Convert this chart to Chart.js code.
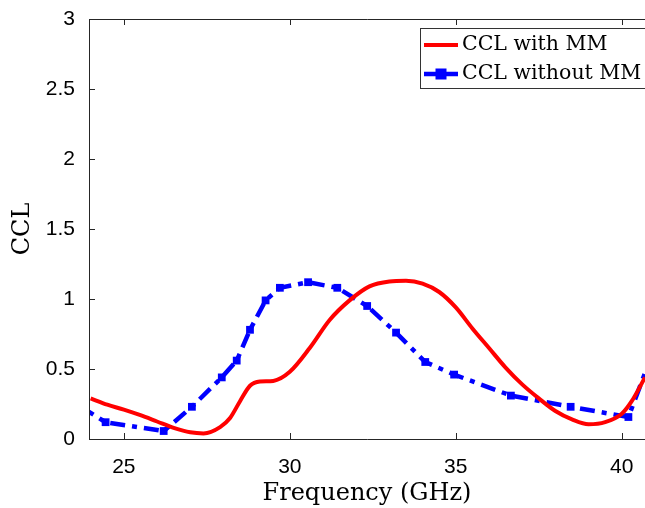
<!DOCTYPE html>
<html>
<head>
<meta charset="utf-8">
<script src="https://cdn.jsdelivr.net/npm/chart.js@4.4.0/dist/chart.umd.min.js"></script>
<style>
  body { margin: 0; background: #fff; }
  canvas { display: block; }
</style>
</head>
<body>
<canvas id="canvas" width="645" height="508"></canvas>
<script>
// CCL with metamaterial (smooth curve)
var freqWith = [24.0, 24.5, 25.0, 25.5, 26.0, 26.5, 27.0, 27.4, 27.9, 28.2, 28.5, 28.8, 29.1, 29.5,
    30.0, 30.6, 31.2, 31.8, 32.4, 33.0, 33.5, 34.0, 34.5, 35.0, 35.5, 36.0, 36.5, 37.0, 37.5,
    38.0, 38.5, 39.0, 39.5, 40.0, 40.3, 40.7];
var cclWith = [0.29, 0.245, 0.21, 0.17, 0.125, 0.08, 0.048, 0.04, 0.085, 0.15, 0.27, 0.38, 0.41, 0.415,
    0.48, 0.65, 0.85, 0.99, 1.09, 1.125, 1.13, 1.11, 1.05, 0.94, 0.79, 0.65, 0.51, 0.39, 0.29,
    0.2, 0.14, 0.105, 0.12, 0.18, 0.27, 0.44];

// CCL without metamaterial (sampled points)
var freqWithout = [23.7, 24.45, 26.2, 27.05, 27.95, 28.4, 28.8, 29.27, 29.7, 30.55, 31.43, 32.33,
    33.2, 34.08, 34.95, 36.66, 38.46, 40.2, 41.0];
var cclWithout = [0.23, 0.12, 0.057, 0.23, 0.44, 0.56, 0.78, 0.99, 1.08, 1.12, 1.08, 0.95,
    0.76, 0.55, 0.46, 0.31, 0.23, 0.157, 0.66];

var xTicks = [25, 30, 35, 40];
var yTicks = [0, 0.5, 1, 1.5, 2, 2.5, 3];

function toPoints(xs, ys) {
    return xs.map(function (x, i) { return { x: x, y: ys[i] }; });
}

var axisColor = '#262626';
var serif = '"DejaVu Serif", serif';
var sans = '"Liberation Sans", Arial, sans-serif';

// box, inward ticks and legend, drawn the matlab way
var framePlugin = {
    id: 'frame',
    afterDraw: function (chart) {
        var ctx = chart.ctx;
        var a = chart.chartArea;
        var xs = chart.scales.x, ys = chart.scales.y;
        ctx.save();
        ctx.strokeStyle = axisColor;
        ctx.lineWidth = 1;
        ctx.beginPath();
        ctx.moveTo(a.right + 2, a.top + 0.5);
        ctx.lineTo(a.left + 0.5, a.top + 0.5);
        ctx.lineTo(a.left + 0.5, a.bottom + 0.5);
        ctx.lineTo(a.right + 2, a.bottom + 0.5);
        xTicks.forEach(function (v) {
            var px = Math.round(xs.getPixelForValue(v)) + 0.5;
            ctx.moveTo(px, a.bottom);
            ctx.lineTo(px, a.bottom - 6);
            ctx.moveTo(px, a.top);
            ctx.lineTo(px, a.top + 6);
        });
        yTicks.forEach(function (v) {
            var py = Math.round(ys.getPixelForValue(v)) + 0.5;
            ctx.moveTo(a.left, py);
            ctx.lineTo(a.left + 6, py);
        });
        ctx.stroke();

        // legend
        var lx = 420, ly = 28, lw = 240, lh = 60;
        ctx.fillStyle = '#fff';
        ctx.fillRect(lx, ly, lw, lh);
        ctx.strokeStyle = '#333';
        ctx.strokeRect(lx + 0.5, ly + 0.5, lw, lh);
        ctx.font = '20.5px ' + serif;
        ctx.textBaseline = 'middle';
        chart.data.datasets.forEach(function (ds, i) {
            var cy = ly + 17 + i * 29;
            ctx.strokeStyle = ds.borderColor;
            ctx.lineWidth = ds.borderWidth;
            ctx.setLineDash([]);
            ctx.beginPath();
            ctx.moveTo(lx + 4, cy);
            ctx.lineTo(lx + 38, cy);
            ctx.stroke();
            if (ds.pointRadius > 0) {
                ctx.fillStyle = ds.pointBackgroundColor;
                ctx.fillRect(lx + 21 - ds.pointRadius, cy - ds.pointRadius, ds.pointRadius * 2, ds.pointRadius * 2);
            }
            ctx.fillStyle = '#000';
            ctx.fillText(ds.label, lx + 42, cy);
        });
        ctx.restore();
    }
};

var config = {
    type: 'line',
    data: {
        datasets: [{
            label: 'CCL with MM',
            data: toPoints(freqWith, cclWith),
            borderColor: '#ff0000',
            borderWidth: 4,
            pointRadius: 0,
            cubicInterpolationMode: 'monotone',
            clip: 0
        }, {
            label: 'CCL without MM',
            data: toPoints(freqWithout, cclWithout),
            borderColor: '#0000ff',
            backgroundColor: '#0000ff',
            borderWidth: 4.5,
            borderDash: [15, 7, 5, 7],
            tension: 0,
            pointStyle: 'rect',
            pointRadius: 5.5,
            pointBackgroundColor: '#0000ff',
            pointBorderColor: '#0000ff',
            pointBorderWidth: 0,
            clip: 0
        }]
    },
    options: {
        responsive: false,
        animation: false,
        layout: { autoPadding: false, padding: { top: 19, right: 0, left: 0, bottom: 0 } },
        plugins: {
            legend: { display: false },
            tooltip: { enabled: false }
        },
        scales: {
            x: {
                type: 'linear',
                min: 23.95,
                max: 40.7,
                afterBuildTicks: function (scale) {
                    scale.ticks = xTicks.map(function (v) { return { value: v }; });
                },
                afterFit: function (scale) { scale.height = 69; },
                grid: { display: false },
                border: { display: false },
                ticks: {
                    color: '#000',
                    font: { family: sans, size: 21 },
                    padding: 8,
                    maxRotation: 0
                },
                title: {
                    display: true,
                    text: 'Frequency (GHz)',
                    color: '#000',
                    font: { family: serif, size: 24 },
                    padding: { top: 0, bottom: 0 }
                }
            },
            y: {
                min: 0,
                max: 3,
                afterBuildTicks: function (scale) {
                    scale.ticks = yTicks.map(function (v) { return { value: v }; });
                },
                afterFit: function (scale) { scale.width = 89; },
                grid: { display: false },
                border: { display: false },
                ticks: {
                    color: '#000',
                    font: { family: sans, size: 21 },
                    padding: 6,
                    callback: function (v) { return String(v); }
                },
                title: {
                    display: true,
                    text: 'CCL',
                    color: '#000',
                    font: { family: serif, size: 24 },
                    padding: { top: 8, bottom: 0 }
                }
            }
        }
    },
    plugins: [framePlugin]
};

var ctx = document.getElementById('canvas').getContext('2d');
var chart = new Chart(ctx, config);
</script>
</body>
</html>
